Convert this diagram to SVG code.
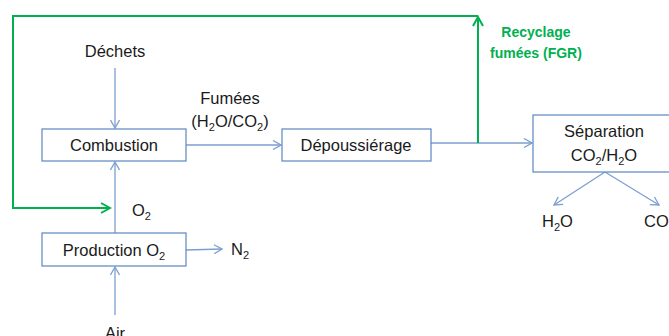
<svg xmlns="http://www.w3.org/2000/svg" width="669" height="336" viewBox="0 0 669 336">
<style>
text{font-family:"Liberation Sans",Arial,sans-serif;font-size:16.5px;fill:#1a1a1a}
.box{fill:#fff;stroke:#5b86c2;stroke-width:1.2}
.ln{stroke:#7d9fd0;stroke-width:1.3;fill:none}
.g{stroke:#00b050;stroke-width:2;fill:none}
.gt{fill:#00b050;font-weight:bold;font-size:14px}
.sub{font-size:11px}
</style>
<defs>
<marker id="a" viewBox="0 0 10 10" refX="9" refY="5" markerWidth="10" markerHeight="10" markerUnits="userSpaceOnUse" orient="auto"><polyline points="1,0.5 9,5 1,9.5" fill="none" stroke="#7d9fd0" stroke-width="1.3"/></marker>
<marker id="ag" viewBox="0 0 12 12" refX="10" refY="6" markerWidth="12" markerHeight="12" markerUnits="userSpaceOnUse" orient="auto"><polyline points="1,1 10,6 1,11" fill="none" stroke="#00b050" stroke-width="2"/></marker>
</defs>
<g id="connectors">
<line class="ln" x1="115" y1="68" x2="115" y2="128" marker-end="url(#a)"/>
<line class="ln" x1="186" y1="145" x2="281" y2="145" marker-end="url(#a)"/>
<line class="ln" x1="431" y1="143" x2="532" y2="143" marker-end="url(#a)"/>
<line class="ln" x1="115" y1="233" x2="115" y2="162" marker-end="url(#a)"/>
<line class="ln" x1="186" y1="250" x2="222" y2="249" marker-end="url(#a)"/>
<line class="ln" x1="115" y1="315" x2="115" y2="267" marker-end="url(#a)"/>
<line class="ln" x1="605" y1="172" x2="554" y2="205" marker-end="url(#a)"/>
<line class="ln" x1="605" y1="172" x2="659" y2="205" marker-end="url(#a)"/>
<polyline class="g" points="478,143 478,17" marker-end="url(#ag)"/>
<polyline class="g" points="478,16 13,16 13,208 110,208" marker-end="url(#ag)"/>
</g>
<g id="combustion"><rect class="box" x="42" y="129" width="144" height="32"/><text x="114" y="151" text-anchor="middle">Combustion</text></g>
<g id="depoussierage"><rect class="box" x="282" y="129" width="149" height="32"/><text x="356" y="151" text-anchor="middle">Dépoussiérage</text></g>
<g id="separation"><rect class="box" x="533" y="115" width="140" height="57"/><text x="604" y="137" text-anchor="middle">Séparation</text><text x="604" y="161" text-anchor="middle">CO<tspan class="sub" dy="4">2</tspan><tspan dy="-4">/H</tspan><tspan class="sub" dy="4">2</tspan><tspan dy="-4">O</tspan></text></g>
<g id="production"><rect class="box" x="42" y="233" width="144" height="33"/><text x="114" y="256" text-anchor="middle">Production O<tspan class="sub" dy="4">2</tspan></text></g>
<g id="labels">
<text x="115" y="57" text-anchor="middle">Déchets</text>
<text x="230" y="104" text-anchor="middle">Fumées</text>
<text x="230" y="127" text-anchor="middle">(H<tspan class="sub" dy="4">2</tspan><tspan dy="-4">O/CO</tspan><tspan class="sub" dy="4">2</tspan><tspan dy="-4">)</tspan></text>
<text x="132" y="216">O<tspan class="sub" dy="4">2</tspan></text>
<text x="231" y="255">N<tspan class="sub" dy="4">2</tspan></text>
<text x="115" y="339" text-anchor="middle">Air</text>
<text x="542" y="227">H<tspan class="sub" dy="4">2</tspan><tspan dy="-4">O</tspan></text>
<text x="644" y="227">CO<tspan class="sub" dy="4">2</tspan></text>
<text class="gt" x="536" y="37" text-anchor="middle">Recyclage</text>
<text class="gt" x="536" y="58" text-anchor="middle">fumées (FGR)</text>
</g>
</svg>
